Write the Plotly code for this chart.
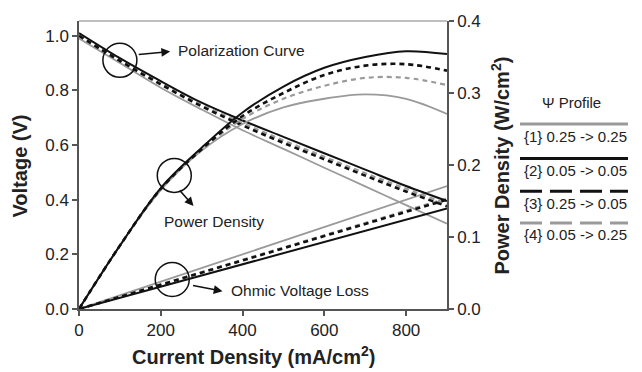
import plotly.graph_objects as go

# ---- data ----
current = [0, 100, 200, 300, 400, 500, 600, 700, 800, 900]  # mA/cm2

# Polarization curves (V)
pol_1 = [0.99, 0.900, 0.810, 0.730, 0.654, 0.586, 0.517, 0.449, 0.380, 0.312]
pol_2 = [1.01, 0.918, 0.834, 0.755, 0.690, 0.630, 0.570, 0.510, 0.450, 0.395]
pol_3 = [1.00, 0.908, 0.822, 0.742, 0.672, 0.608, 0.548, 0.488, 0.430, 0.376]
pol_4 = [1.00, 0.912, 0.828, 0.748, 0.680, 0.617, 0.557, 0.497, 0.440, 0.385]

# Ohmic voltage loss (V)
ohm_1 = [0.0, 0.050, 0.100, 0.150, 0.200, 0.250, 0.300, 0.350, 0.400, 0.450]
ohm_2 = [0.0, 0.041, 0.082, 0.123, 0.164, 0.205, 0.246, 0.287, 0.328, 0.368]
ohm_3 = [0.0, 0.044, 0.089, 0.133, 0.178, 0.222, 0.267, 0.311, 0.355, 0.400]
ohm_4 = [0.0, 0.045, 0.090, 0.135, 0.180, 0.225, 0.270, 0.315, 0.360, 0.405]

# Power density (W/cm2)
pow_1 = [0.0, 0.088, 0.165, 0.220, 0.257, 0.280, 0.292, 0.298, 0.292, 0.271]
pow_2 = [0.0, 0.088, 0.168, 0.224, 0.273, 0.309, 0.335, 0.350, 0.358, 0.354]
pow_3 = [0.0, 0.088, 0.167, 0.222, 0.268, 0.300, 0.325, 0.338, 0.340, 0.331]
pow_4 = [0.0, 0.088, 0.166, 0.221, 0.264, 0.292, 0.310, 0.321, 0.321, 0.311]

legend_title = "Ψ Profile"
legend_labels = ["{1} 0.25 -> 0.25", "{2} 0.05 -> 0.05",
                 "{3} 0.25 -> 0.05", "{4} 0.05 -> 0.25"]

x_ticks = [0, 200, 400, 600, 800]
y_ticks = [0.0, 0.2, 0.4, 0.6, 0.8, 1.0]
y2_ticks = [0.0, 0.1, 0.2, 0.3, 0.4]

# ---- styles ----
BLACK = "#111111"
GRAY = "#9a9a9a"
AXC = "#555555"
FONT = "Liberation Sans, Arial, sans-serif"
styles = [
    dict(color=GRAY, width=1.8, dash="solid"),
    dict(color=BLACK, width=2.0, dash="solid"),
    dict(color=BLACK, width=2.6, dash="5px,4px"),
    dict(color=GRAY, width=2.2, dash="5px,4px"),
]

W, H = 642, 372
L, R, T, B = 79, 195, 18, 63
PW, PH = W - L - R, H - T - B


def px2paper(px, py):
    return (px - L) / PW, (H - B - py) / PH


fig = go.Figure()
pols = [pol_1, pol_2, pol_3, pol_4]
ohms = [ohm_1, ohm_2, ohm_3, ohm_4]
pows = [pow_1, pow_2, pow_3, pow_4]
order = [0, 3, 2, 1]
for i in order:
    fig.add_trace(go.Scatter(x=current, y=pols[i], mode="lines", line=dict(**styles[i], shape="spline"),
                             yaxis="y", showlegend=False, hoverinfo="skip"))
    fig.add_trace(go.Scatter(x=current, y=ohms[i], mode="lines", line=dict(**styles[i]),
                             yaxis="y", showlegend=False, hoverinfo="skip"))
    fig.add_trace(go.Scatter(x=current, y=pows[i], mode="lines", line=dict(**styles[i], shape="spline"),
                             yaxis="y2", showlegend=False, hoverinfo="skip"))

shapes = []
annotations = []

# circles around curve groups (pixel-sized, anchored to data)
for cx, cy in [(100, 0.91), (233, 0.489), (228, 0.108)]:
    shapes.append(dict(type="circle", xref="x", yref="y", xsizemode="pixel", ysizemode="pixel",
                       xanchor=cx, yanchor=cy, x0=-17, x1=17, y0=-17, y1=17,
                       line=dict(color=BLACK, width=1.5)))

# arrows
for hx, hy, ax, ay in [(223, 0.942, -33, 3), (280, 0.377, -15, -17), (351, 0.065, -31, -6)]:
    annotations.append(dict(x=hx, y=hy, xref="x", yref="y", text="", showarrow=True,
                            ax=ax, ay=ay, arrowhead=2, arrowsize=1.1, arrowwidth=1.6,
                            arrowcolor=BLACK))

# curve labels
for txt, tx, ty in [("Polarization Curve", 238, 0.946), ("Power Density", 204, 0.322),
                    ("Ohmic Voltage Loss", 366, 0.069)]:
    annotations.append(dict(x=tx, y=ty, xref="x", yref="y", text=txt, showarrow=False,
                            xanchor="left", yanchor="middle",
                            font=dict(family=FONT, size=15.5, color="#222")))

# top frame line
shapes.append(dict(type="line", xref="paper", yref="paper", x0=0, x1=1, y0=1, y1=1,
                   line=dict(color="#aaaaaa", width=1.5)))

# custom legend
x0p, _ = px2paper(520, 0)
x1p, _ = px2paper(628, 0)
line_ys = [122, 157, 190, 222]
text_ys = [135, 169, 202, 234]
leg_dash = ["solid", "solid", "22px,8px", "22px,8px"]
for i in range(4):
    _, yp = px2paper(0, line_ys[i])
    shapes.append(dict(type="line", xref="paper", yref="paper", x0=x0p, x1=x1p, y0=yp, y1=yp,
                       line=dict(color=styles[i]["color"], width=3, dash=leg_dash[i])))
    tx, ty = px2paper(575, text_ys[i])
    annotations.append(dict(x=tx, y=ty, xref="paper", yref="paper", text=legend_labels[i],
                            showarrow=False, xanchor="center", yanchor="middle",
                            font=dict(family=FONT, size=15, color="#222")))
tx, ty = px2paper(571, 100)
annotations.append(dict(x=tx, y=ty, xref="paper", yref="paper", text=legend_title,
                        showarrow=False, xanchor="center", yanchor="middle",
                        font=dict(family=FONT, size=15, color="#222")))

# axis titles
tx, ty = px2paper(20, 165)
annotations.append(dict(x=tx, y=ty, xref="paper", yref="paper", text="<b>Voltage (V)</b>",
                        textangle=-90, showarrow=False, xanchor="center", yanchor="middle",
                        font=dict(family=FONT, size=20, color="#222")))
tx, ty = px2paper(500, 164)
annotations.append(dict(x=tx, y=ty, xref="paper", yref="paper",
                        text="<b>Power Density (W/cm<sup>2</sup>)</b>",
                        textangle=-90, showarrow=False, xanchor="center", yanchor="middle",
                        font=dict(family=FONT, size=20, color="#222")))
tx, ty = px2paper(253, 356)
annotations.append(dict(x=tx, y=ty, xref="paper", yref="paper",
                        text="<b>Current Density (mA/cm<sup>2</sup>)</b>",
                        showarrow=False, xanchor="center", yanchor="middle",
                        font=dict(family=FONT, size=20, color="#222")))

tickfont = dict(family=FONT, size=17, color="#222")
fig.update_layout(
    width=W, height=H,
    margin=dict(l=L, r=R, t=T, b=B, pad=0),
    paper_bgcolor="white", plot_bgcolor="white",
    showlegend=False,
    shapes=shapes, annotations=annotations,
    xaxis=dict(range=[0, 900], tickvals=x_ticks, ticks="outside", ticklen=5, tickwidth=1.5,
               tickcolor=AXC, showline=True, linecolor=AXC, linewidth=1.5, showgrid=False,
               zeroline=False, tickfont=tickfont),
    yaxis=dict(range=[0, 1.054], tickvals=y_ticks, tickformat=".1f", ticks="outside",
               ticklen=5, tickwidth=1.5, tickcolor=AXC, showline=True, linecolor=AXC,
               linewidth=1.5, showgrid=False, zeroline=False, tickfont=tickfont),
    yaxis2=dict(range=[0, 0.4], tickvals=y2_ticks, tickformat=".1f", overlaying="y",
                side="right", ticks="outside", ticklen=5, tickwidth=1.5, tickcolor=AXC,
                showline=True, linecolor=AXC, linewidth=1.5, showgrid=False, zeroline=False,
                tickfont=tickfont),
)

fig.write_html("out.html")
